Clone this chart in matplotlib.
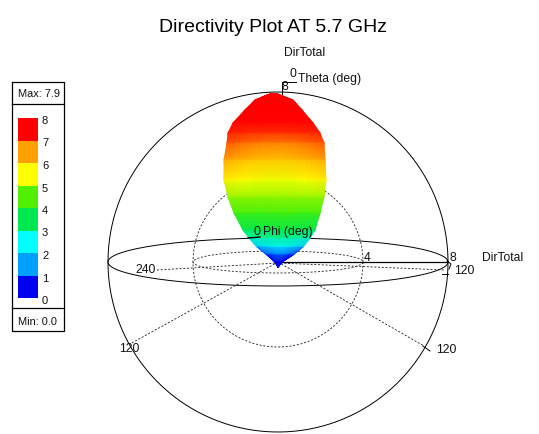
#!/usr/bin/env python3
import matplotlib
matplotlib.use("Agg")
import matplotlib.pyplot as plt
import numpy as np
from matplotlib.colors import LinearSegmentedColormap

WIDTH, HEIGHT = 539, 434
CENTER_X, CENTER_Y = 278, 262

# lobe outline, one row per height
lobe_y = [93.5, 95, 100, 110, 123, 133, 143, 160, 180, 197, 213, 230, 238, 247, 255, 262, 267]
lobe_left = [272, 267, 255, 245, 233, 228, 227, 224, 224, 228, 234, 243, 249, 257, 267, 275, 278]
lobe_right = [276, 280, 293, 302, 313, 320, 324, 325, 326, 324, 320, 315, 310, 303, 293, 282, 278]
lobe_level = [8, 8, 8, 8, 7.95, 7.75, 7.4, 6.8, 5.9, 5.0, 4.4, 3.4, 2.7, 1.6, 0.2, 0, 0]
lobe_bulge = [0, 0, 0, 0, 0, -0.1, -0.3, -0.4, -0.3, 0, 0, 0.1, 0.3, 0.5, 0.5, 0.1, 0]

# legend
legend_colors = ["#0000f0", "#00a0ff", "#00ffff", "#00e850", "#50f000", "#ffff00", "#ffa000", "#ff0000"]
legend_ticks = [0, 1, 2, 3, 4, 5, 6, 7, 8]

# dashed spokes, end points in pixels
spoke_x = [130, 424]
spoke_y = [344, 346]
phi_minor = [11, 24]


def label(ax, x, y, s, size=8.7, ha="left"):
    ax.text(x, y, s, fontsize=size, ha=ha, va="center", color="#111111", zorder=6)


def ellipse(ax, rx, ry, **kw):
    t = np.linspace(0, 2 * np.pi, 300)
    ax.plot(CENTER_X + rx * np.cos(t), CENTER_Y + ry * np.sin(t), **kw)


def main():
    plt.rcParams["font.family"] = ["Liberation Sans", "DejaVu Sans"]
    fig = plt.figure(figsize=(WIDTH / 100, HEIGHT / 100), dpi=100)
    ax = fig.add_axes([0, 0, 1, 1])
    ax.set_xlim(0, WIDTH)
    ax.set_ylim(HEIGHT, 0)
    ax.axis("off")

    solid = dict(color="black", linewidth=0.7)
    dashed = dict(color="#222222", linewidth=0.6, linestyle=(0, (2.5, 2)))

    # sphere and grid circles
    ellipse(ax, 170, 170, **solid)
    ellipse(ax, 85, 85, **dashed)
    ellipse(ax, 170, phi_minor[1], **solid)
    ellipse(ax, 85, phi_minor[0], **dashed)
    ax.plot([CENTER_X, 446], [262, 262], color="black", linewidth=0.9)
    for sx, sy in zip(spoke_x, spoke_y):
        ax.plot([CENTER_X, sx], [CENTER_Y, sy], **dashed)
    ax.plot([157, CENTER_X, 445], [270, 263, 270], **dashed)

    # tick marks
    ax.plot([282, 282, 296], [95, 82, 82], **solid)
    ax.plot([442, 448], [274, 274], **solid)
    ax.plot([423, 430], [346, 351], **solid)
    ax.plot([447, 451, 449], [261, 264, 269], **solid)

    # lobe, coloured by level along its height
    cmap = LinearSegmentedColormap.from_list("dir", legend_colors)
    frac = np.linspace(0, 1, 41)
    xs = np.outer(lobe_left, 1 - frac) + np.outer(lobe_right, frac)
    ys = np.outer(lobe_y, np.ones_like(frac))
    dome = 1 - (2 * frac - 1) ** 2
    vals = np.outer(lobe_level, np.ones_like(frac)) + np.outer(lobe_bulge, dome)
    ax.pcolormesh(xs, ys, np.clip(vals, 0, 8), cmap=cmap, vmin=0, vmax=8, shading="gouraud", zorder=3)

    ax.plot([248, 260], [238, 237], color="black", linewidth=1.0, zorder=4)

    fig.text(273 / WIDTH, 1 - 27 / HEIGHT, "Directivity Plot AT 5.7 GHz", fontsize=14.0,
             ha="center", va="center", color="black")
    label(ax, 284, 53, "DirTotal")
    label(ax, 289, 74, "0")
    label(ax, 298, 79, "Theta (deg)")
    label(ax, 282, 87, "8")
    label(ax, 254, 232, "0")
    label(ax, 263, 232, "Phi (deg)")
    label(ax, 364, 258, "4")
    label(ax, 449, 258, "8")
    label(ax, 482, 258, "DirTotal")
    label(ax, 454, 271, "120")
    label(ax, 436, 350, "120")
    label(ax, 119, 349, "120")
    label(ax, 135, 270, "240")

    # legend box
    ax.plot([12, 64, 64, 12, 12], [82, 82, 331, 331, 82], color="black", linewidth=0.9, zorder=5)
    ax.plot([12, 64], [104, 104], color="black", linewidth=0.9)
    ax.plot([12, 64], [308, 308], color="black", linewidth=0.9)
    label(ax, 39, 94, "Max: 7.9", size=7.9, ha="center")
    label(ax, 38, 322, "Min: 0.0", size=7.9, ha="center")
    step = (298 - 118) / (len(legend_ticks) - 1)
    for i, tick in enumerate(legend_ticks):
        y = 298 - i * step
        label(ax, 42, y + 3, str(tick), size=8.0)
        if i < len(legend_colors):
            ax.fill_between([18, 38], y - step, y, color=legend_colors[i], linewidth=0)

    fig.savefig("out.png", dpi=100)
    plt.close(fig)


if __name__ == "__main__":
    main()
